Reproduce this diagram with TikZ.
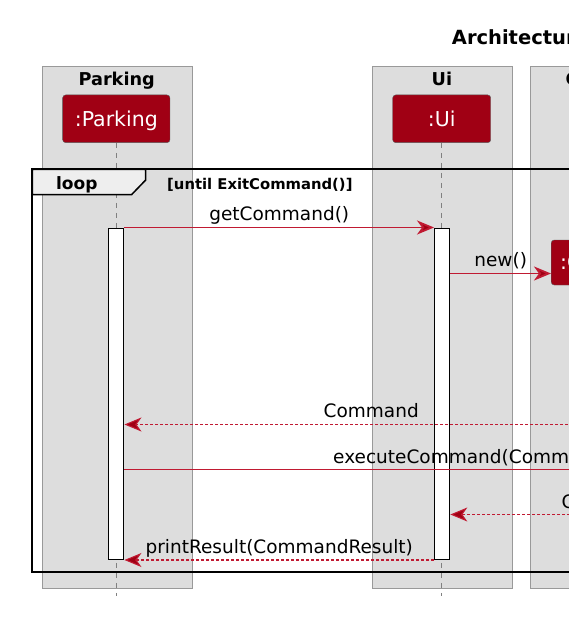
\documentclass[tikz,border=0pt]{standalone}
\usepackage{fontspec}
\setmainfont{DejaVu Sans}
\usepackage{xcolor}
\usepackage{tikz}
\usetikzlibrary{arrows.meta, positioning, calc}

\definecolor{umlred}{HTML}{A00014}
\definecolor{arrowred}{HTML}{C01A32}
\definecolor{lanegray}{HTML}{DDDDDD}
\definecolor{lanedraw}{HTML}{999999}
\definecolor{tabgray}{HTML}{EEEEEE}

\begin{document}
\begin{tikzpicture}[x=1pt, y=-1pt,
    lane/.style={rectangle, draw=lanedraw, fill=lanegray, line width=0.8pt, anchor=north west, inner sep=0pt, minimum height=522.3pt},
    head/.style={font=\bfseries\fontsize{17.7}{20}\selectfont, anchor=base, inner sep=0pt},
    actor/.style={rectangle, rounded corners=3pt, draw=gray!70!black, fill=umlred, text=white, font=\fontsize{20.5}{24}\selectfont, minimum height=47.7pt, text height=14.6pt, text depth=0pt},
    life/.style={draw=gray, dash pattern=on 5pt off 5pt, line width=0.8pt},
    bar/.style={rectangle, draw=black, fill=white, line width=1pt, minimum width=15.3pt, minimum height=331.5pt, anchor=north, inner sep=0pt},
    msg/.style={draw=arrowred, line width=1.8pt, -{Stealth[length=17pt, width=14pt, inset=5pt, fill=umlred]}},
    reply/.style={msg, line width=1.1pt, dash pattern=on 3pt off 2pt},
    lbl/.style={font=\fontsize{18.5}{22}\selectfont, inner sep=2pt, text depth=4pt},
    frame/.style={draw=black, line width=1.8pt}
]
    \useasboundingbox (0,0) rectangle (569,639);
    \clip (0,0) rectangle (569,639);

    \node[anchor=base west, font=\bfseries\fontsize{19.5}{23}\selectfont, inner sep=0pt] (title) at (451.7,44.3) {Architectur};

    \node[lane, minimum width=150pt] (parkinglane) at (41.7,66) {};
    \node[lane, minimum width=140.3pt] (uilane) at (371.7,66) {};
    \node[lane, minimum width=150pt] (cmdlane) at (530,66) {};

    \node[head] (parkinghead) at (116.7,86) {Parking};
    \node[head] (uihead) at (441.9,86) {Ui};
    \node[head, anchor=base west] (cmdhead) at (565.5,86) {C};

    \node[actor, minimum width=107.3pt] (parking) at (116.3,118.8) {:Parking};
    \node[actor, minimum width=98pt] (ui) at (441.7,118.8) {:Ui};
    \node[actor, minimum height=45pt, inner xsep=9pt, anchor=west] (cmd) at (551,262.5) {:C};

    \coordinate (parkingend) at (116.3,596);
    \coordinate (uiend) at (441.7,596);
    \draw[life] (parking.south) -- (parkingend);
    \draw[life] (ui.south) -- (uiend);

    \coordinate (loopfar) at (620,572);
    \draw[frame] (32.3,169.3) rectangle (loopfar);
    \filldraw[fill=tabgray, draw=black, line width=1.5pt] (32.3,169.3) -- (145.7,169.3) -- (145.7,180) -- (131.7,194.5) -- (32.3,194.5) -- cycle;
    \node[font=\bfseries\fontsize{17}{20}\selectfont, anchor=base, inner sep=0pt] (looptag) at (76.8,189.5) {loop};
    \node[font=\bfseries\fontsize{14.8}{18}\selectfont, anchor=base west, inner sep=0pt] (guard) at (167,189.3) {[until ExitCommand()]};

    \node[bar] (parkingbar) at (116.3,227.5) {};
    \node[bar] (uibar) at (442.2,227.5) {};

    \coordinate (newrow) at (0,273.5);
    \coordinate (cmdsrc) at (618,424.5);
    \coordinate (exectgt) at (640,469.5);
    \coordinate (resultsrc) at (700,514.5);

    \draw[msg] (parkingbar.north east) -- (uibar.north west) node[lbl, midway, above] {getCommand()};
    \draw[msg] (uibar.east |- newrow) -- (cmd.west |- newrow) node[lbl, midway, above] {new()};
    \draw[reply] (cmdsrc) -- (parkingbar.east |- cmdsrc) node[lbl, midway, above] {Command};
    \draw[msg] (parkingbar.east |- exectgt) -- (exectgt);
    \node[lbl, anchor=south west] (execlbl) at (331,469.5) {executeCommand(Comm};
    \draw[reply] (resultsrc) -- (uibar.east |- resultsrc);
    \node[lbl, anchor=south west] (resultlbl) at (559.5,514.5) {C};
    \draw[reply] (uibar.south west) -- (parkingbar.south east) node[lbl, midway, above] {printResult(CommandResult)};
\end{tikzpicture}
\end{document}
